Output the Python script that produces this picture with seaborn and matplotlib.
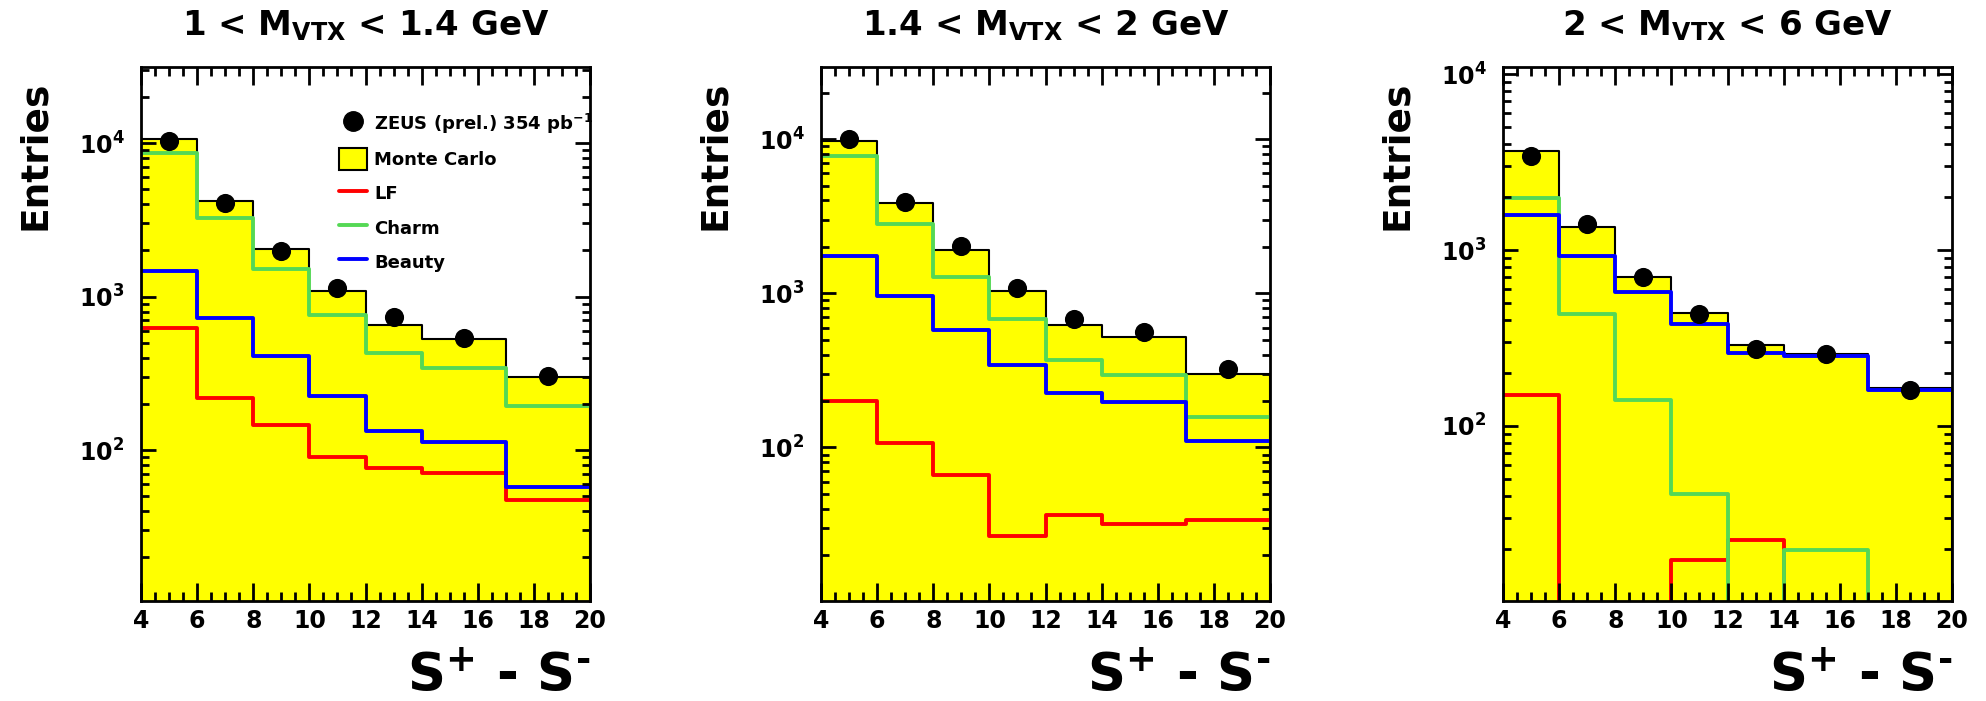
# ZEUS secondary-vertex significance plots in three M_VTX bins, log y

import matplotlib
matplotlib.use('Agg')
import matplotlib.pyplot as plt
import seaborn as sns
from matplotlib.lines import Line2D
from matplotlib.patches import Patch
from matplotlib.ticker import MultipleLocator, NullFormatter

# bin edges and centres of S+ - S-
edges = [4, 6, 8, 10, 12, 14, 17, 20]
centers = [5, 7, 9, 11, 13, 15.5, 18.5]

titles = ['1 < M$_{VTX}$ < 1.4 GeV', '1.4 < M$_{VTX}$ < 2 GeV', '2 < M$_{VTX}$ < 6 GeV']

# 1 < M_VTX < 1.4 GeV
data1 = [10300, 4080, 1990, 1140, 740, 535, 306]
mc1 = [10600, 4170, 2040, 1085, 650, 527, 301]
lf1 = [624, 218, 145, 90, 77, 71, 47.6]
charm1 = [8680, 3240, 1520, 760, 432, 343, 194]
beauty1 = [1470, 730, 408, 226, 134, 113, 57.5]

# 1.4 < M_VTX < 2 GeV
data2 = [10070, 3940, 2030, 1077, 683, 558, 325]
mc2 = [9670, 3860, 1910, 1040, 622, 523, 300]
lf2 = [199, 107, 66, 26.7, 36.4, 31.8, 33.6]
charm2 = [7760, 2820, 1280, 678, 369, 294, 158]
beauty2 = [1740, 961, 574, 341, 225, 198, 110]

# 2 < M_VTX < 6 GeV
data3 = [3440, 1400, 700, 433, 274, 256, 161]
mc3 = [3650, 1350, 705, 436, 289, 257, 165]
lf3 = [149, 0, 0, 17.3, 22.4, 0, 0]
charm3 = [1980, 435, 140, 41, 0, 19.7, 0]
beauty3 = [1585, 925, 575, 379, 260, 249, 160]

ylims = [(10.4, 31400), (10.1, 29400), (10.1, 11000)]

YELLOW = '#ffff00'
RED = '#ff0000'
GREEN = '#55d855'
BLUE = '#0000ff'

sns.set_style('ticks')
plt.rcParams['font.family'] = ['DejaVu Sans']
plt.rcParams['font.weight'] = 'bold'
plt.rcParams['mathtext.default'] = 'regular'
# plain black everything, like the ROOT original
for k in ['text.color', 'axes.labelcolor', 'axes.edgecolor', 'xtick.color', 'ytick.color']:
    plt.rcParams[k] = 'black'
plt.rcParams['xtick.direction'] = 'in'
plt.rcParams['ytick.direction'] = 'in'
plt.rcParams['xtick.top'] = True
plt.rcParams['ytick.right'] = True


def draw_panel(ax, title, data, mc, lf, charm, beauty, ylim):
    ax.set_yscale('log')

    # Monte Carlo sum as filled histogram
    sns.histplot(x=centers, weights=mc, bins=edges, element='step', fill=True,
                 color=YELLOW, edgecolor='black', linewidth=1.5, alpha=1, ax=ax)

    # components as open step lines
    for vals, col in [(lf, RED), (charm, GREEN), (beauty, BLUE)]:
        sns.histplot(x=centers, weights=vals, bins=edges, element='step', fill=False,
                     color=col, linewidth=2.8, ax=ax)

    # data points
    sns.scatterplot(x=centers, y=data, color='black', s=190, linewidth=0, zorder=5, ax=ax)

    ax.set_xlim(4, 20)
    ax.set_ylim(*ylim)
    ax.set_xlabel('')
    ax.set_ylabel('')
    ax.set_axisbelow(False)

    ax.xaxis.set_major_locator(MultipleLocator(2))
    ax.xaxis.set_minor_locator(MultipleLocator(0.5))
    ax.yaxis.set_minor_formatter(NullFormatter())

    ax.tick_params(which='both', direction='in', bottom=True, top=True, left=True,
                   right=True, width=2, labelsize=17, color='black')
    ax.tick_params(axis='x', which='major', length=13, pad=6)
    ax.tick_params(axis='x', which='minor', length=6.5)
    ax.tick_params(axis='y', which='major', length=11, pad=12)
    ax.tick_params(axis='y', which='minor', length=5.5)
    for s in ax.spines.values():
        s.set_visible(True)
        s.set_linewidth(2)
        s.set_color('black')

    ax.set_title(title, fontsize=24.5, fontweight='bold', pad=23)
    ax.text(-0.235, 0.975, 'Entries', rotation=90, ha='center', va='top',
            transform=ax.transAxes, fontsize=27, fontweight='bold')
    ax.text(1.0, -0.19, r'S$^{+}$ - S$^{\text{-}}$', ha='right', va='bottom',
            transform=ax.transAxes, fontsize=38, fontweight='bold')


fig = plt.figure(figsize=(19.86, 7.01), dpi=100)
lefts = [0.0710, 0.4134, 0.7568]
axes = [fig.add_axes([l, 0.1427, 0.2261, 0.7618]) for l in lefts]

panels = [(data1, mc1, lf1, charm1, beauty1),
          (data2, mc2, lf2, charm2, beauty2),
          (data3, mc3, lf3, charm3, beauty3)]

for ax, title, vals, ylim in zip(axes, titles, panels, ylims):
    draw_panel(ax, title, *vals, ylim)

# legend only on the first panel
handles = [
    Line2D([], [], marker='o', color='black', linestyle='none', markersize=14),
    Patch(facecolor=YELLOW, edgecolor='black', linewidth=1.5),
    Line2D([], [], color=RED, linewidth=2.8),
    Line2D([], [], color=GREEN, linewidth=2.8),
    Line2D([], [], color=BLUE, linewidth=2.8),
]
labels = ['ZEUS (prel.) 354 pb$^{-1}$', 'Monte Carlo', 'LF', 'Charm', 'Beauty']
axes[0].legend(handles, labels, loc='upper left', bbox_to_anchor=(0.425, 0.93),
               frameon=False, fontsize=13, handlelength=1.55, handleheight=1.5,
               handletextpad=0.4, labelspacing=0.68, borderaxespad=0)

fig.savefig('out.png', dpi=100)
